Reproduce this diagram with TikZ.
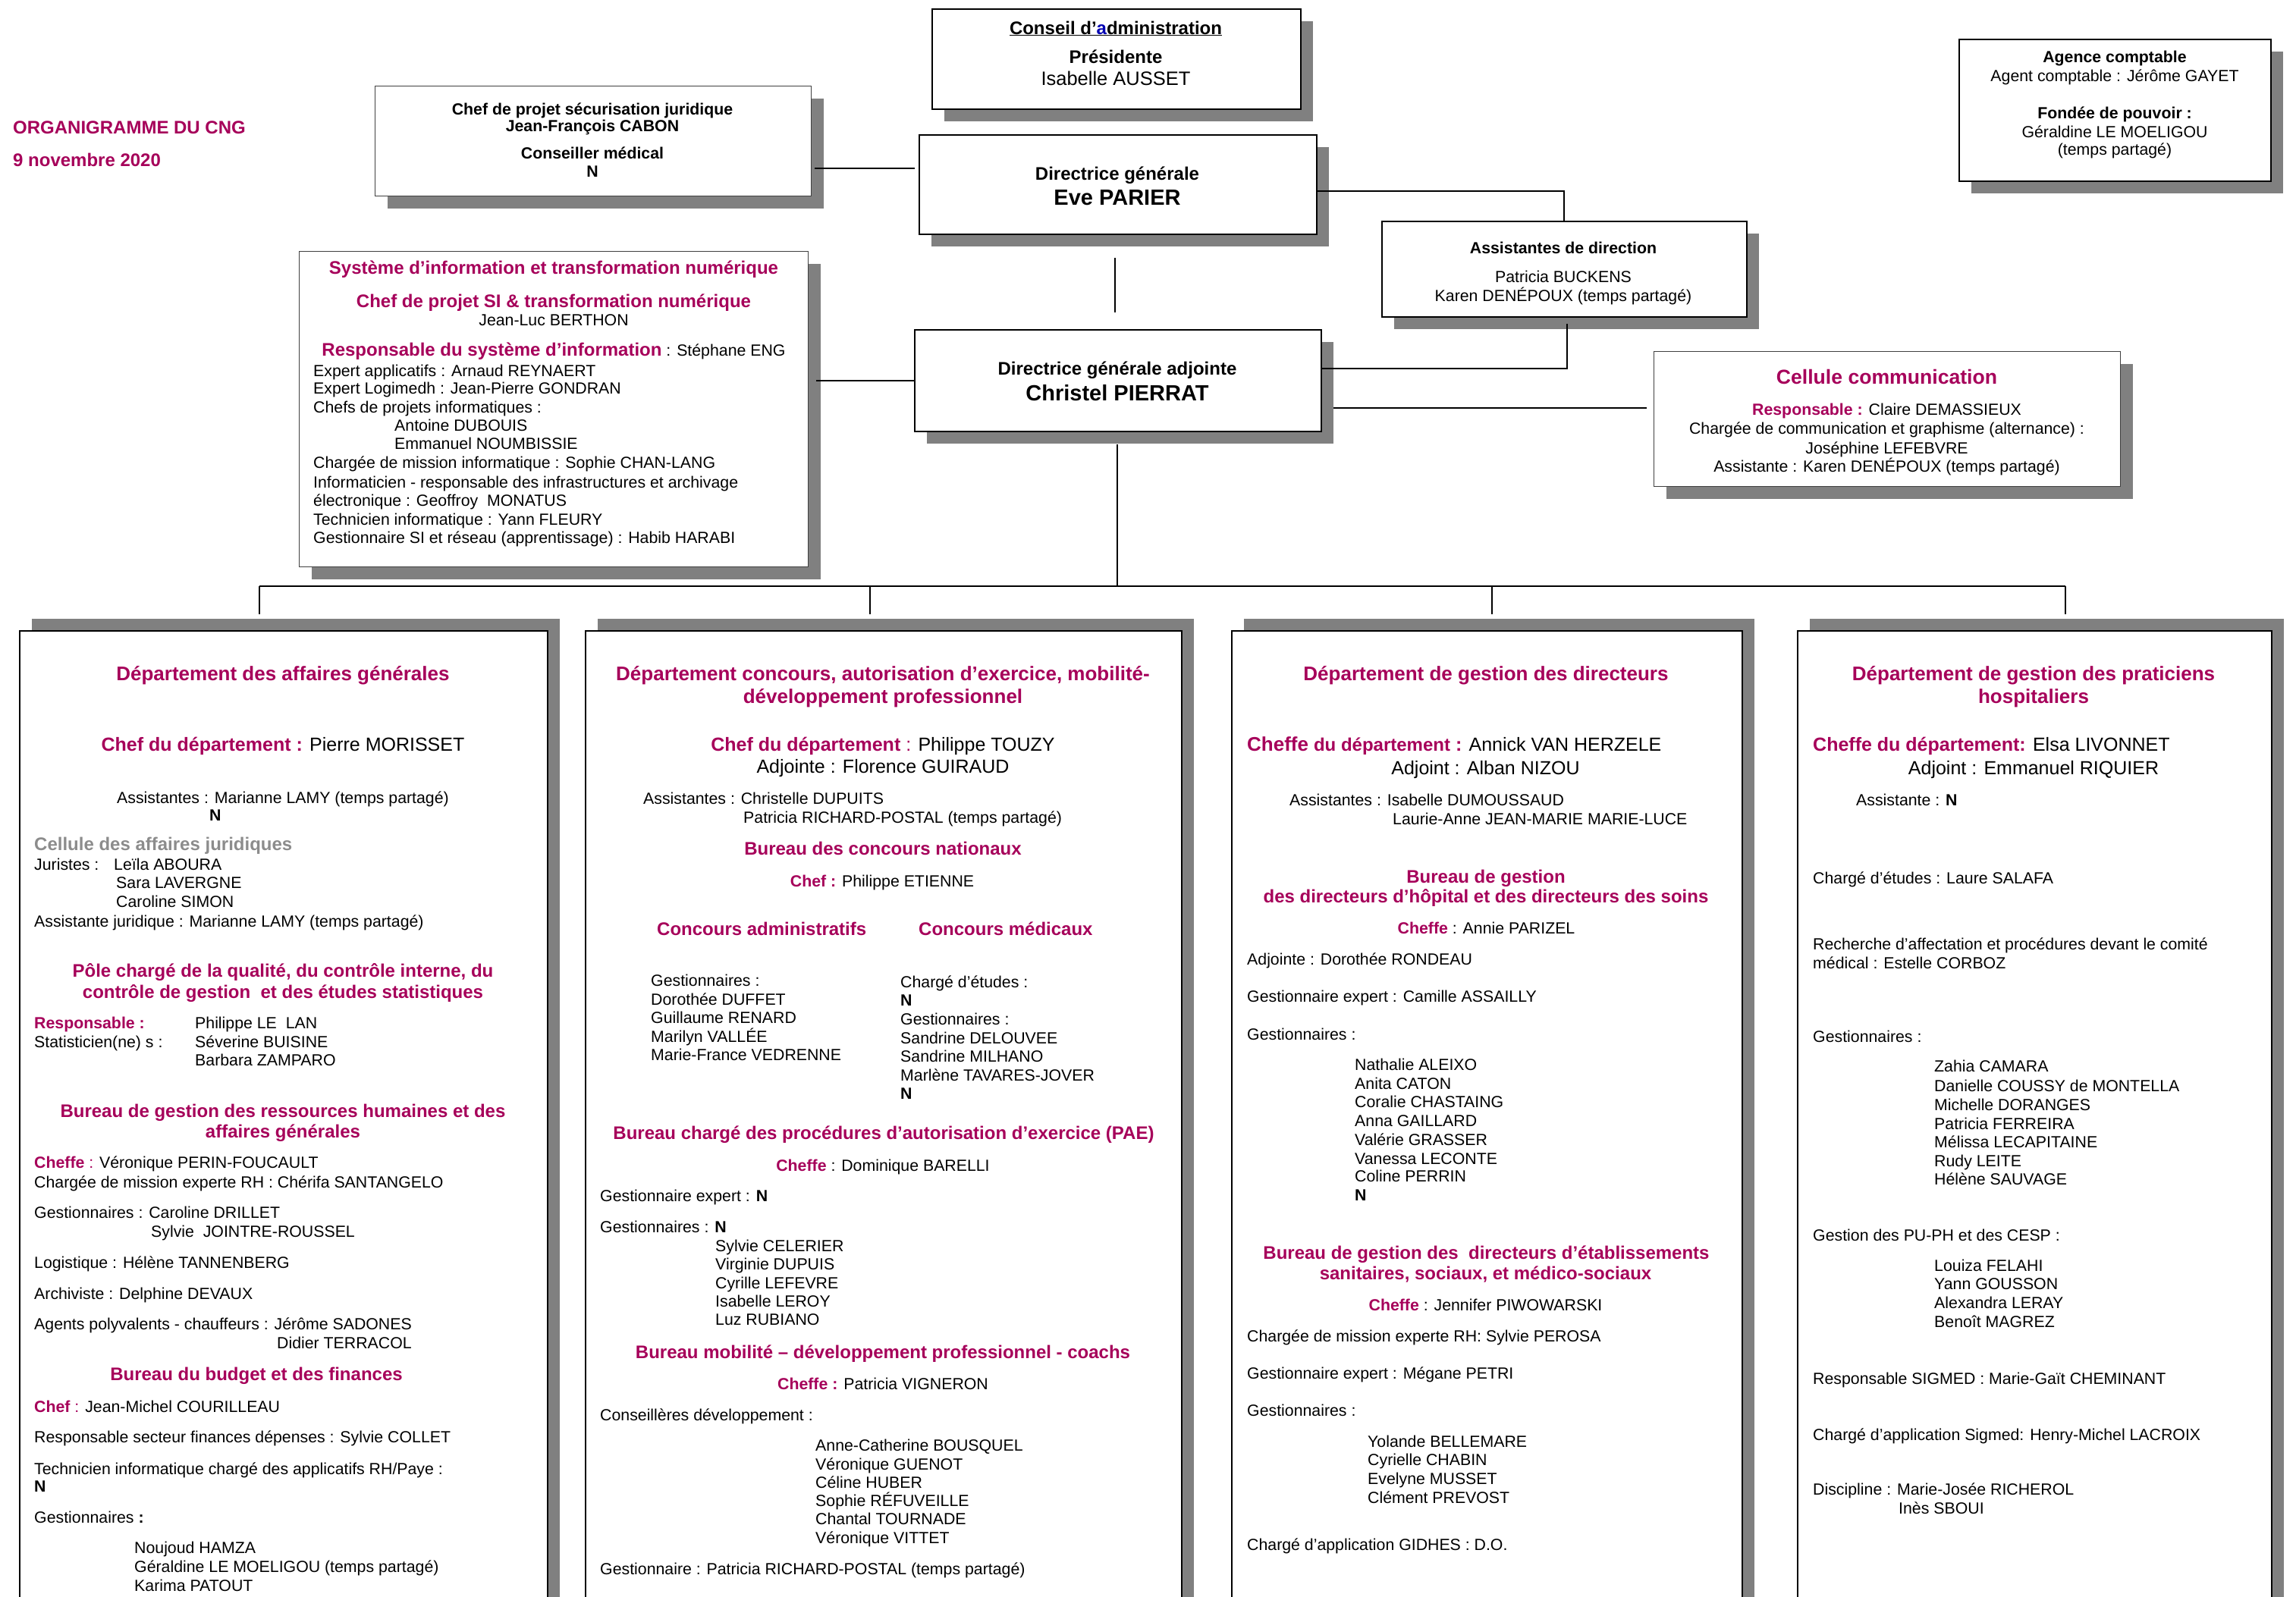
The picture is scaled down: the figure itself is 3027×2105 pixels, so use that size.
\documentclass[tikz,border=0pt]{standalone}
\usepackage{fontspec}
\setmainfont{Liberation Sans}
\usetikzlibrary{shadows,calc}
\pgfdeclarelayer{bg}
\pgfsetlayers{bg,main}
\definecolor{mag}{RGB}{166,0,90}
\definecolor{sh}{RGB}{128,128,128}
\definecolor{jg}{RGB}{140,140,140}
\newcommand\fb{\fontsize{21.3}{24.5}\selectfont}
\newcommand\fbb{\fontsize{21.3}{24.5}\selectfont\bfseries}
\newcommand\fk{\fontsize{24}{27.6}\selectfont\bfseries}
\newcommand\fh{\fontsize{24}{27.6}\selectfont\bfseries\color{mag}}
\newcommand\fd{\fontsize{26}{30}\selectfont\bfseries\color{mag}}
\newcommand\fc{\fontsize{25}{29}\selectfont}
\newcommand\fbig{\fontsize{29}{33}\selectfont\bfseries}
\newcommand\mg[1]{{\color{mag}\bfseries #1}}
\newcommand\chf{{\fontsize{26}{30}\selectfont\color{mag}\bfseries Cheffe}}
\newcommand\dpt{{\fontsize{24}{28}\selectfont\color{mag}\bfseries du département}}
\newcounter{tn}
\newcommand\LN[4][]{\stepcounter{tn}\node[tl,#1] (t\arabic{tn}) at (#2,-#3) {#4};}
\newcommand\CN[4][]{\stepcounter{tn}\node[tcn,#1] (t\arabic{tn}) at (#2,-#3) {#4};}
\begin{document}
\begin{tikzpicture}[x=1pt,y=1pt,
  tl/.style={inner sep=0pt, anchor=base west, font=\fb},
  tcn/.style={inner sep=0pt, anchor=base, font=\fb},
  bx/.style={draw, fill=white, inner sep=0pt, anchor=north west,
     general shadow={fill=sh, shadow xshift=16pt, shadow yshift=-16pt}},
  bk/.style={bx, line width=2.2pt},
  bm/.style={bx, line width=1.8pt},
  bt/.style={bx, line width=1pt, draw=black!75},
  dp/.style={draw, fill=white, inner sep=0pt, anchor=north west, line width=2.2pt,
     general shadow={fill=sh, shadow xshift=16pt, shadow yshift=16pt}},
  cn/.style={line width=2pt}]
\useasboundingbox (0,0) rectangle (3027,-2105);
\begin{pgfonlayer}{bg}
\fill[white] (0,0) rectangle (3027,-2105);
\end{pgfonlayer}

% ---------- boxes ----------
\node[bk, minimum width=486pt, minimum height=132pt] (conseil) at (1228,-11) {};
\node[bt, minimum width=575pt, minimum height=145pt] (chef) at (494,-113) {};
\node[bk, minimum width=524pt, minimum height=131pt] (dg) at (1211,-177) {};
\node[bt, minimum width=671pt, minimum height=416pt] (si) at (394,-331) {};
\node[bk, minimum width=536pt, minimum height=134pt] (dga) at (1205,-434) {};
\node[bm, minimum width=481pt, minimum height=126pt] (assist) at (1821,-291) {};
\node[bt, minimum width=615pt, minimum height=178pt] (cellule) at (2180,-463) {};
\node[bk, minimum width=411pt, minimum height=187pt] (agence) at (2582,-51) {};
\node[dp, minimum width=696pt, minimum height=1320pt] (d1) at (25,-831) {};
\node[dp, minimum width=786pt, minimum height=1320pt] (d2) at (771,-831) {};
\node[dp, minimum width=673pt, minimum height=1320pt] (d3) at (1623,-831) {};
\node[dp, minimum width=625pt, minimum height=1320pt] (d4) at (2369,-831) {};

% ---------- connectors ----------
\coordinate (ya) at (0,-222);
\draw[cn] ($(chef.east |- ya)+(4,0)$) -- ($(dg.west |- ya)+(-5,0)$);
\coordinate (yb) at (0,-251.5);
\draw[cn] (dg.east |- yb) -| (assist.north);
\coordinate (xc) at (2066,-486);
\draw[cn] ($(assist.south -| xc)+(0,-8)$) |- (dga.east |- xc);
\coordinate (yd) at (0,-538);
\draw[cn] ($(dga.east |- yd)+(15,0)$) -- ($(cellule.west |- yd)+(-9,0)$);
\coordinate (ye) at (0,-502);
\draw[cn] ($(si.east |- ye)+(10,0)$) -- (dga.west |- ye);
\coordinate (xg) at (1470,0);
\draw[cn, line width=1.2pt] ($(dg.south -| xg)+(0,-30)$) -- ($(dga.north -| xg)+(0,22)$);
\coordinate (xm) at (1473,0);
\coordinate (bar) at (0,-773);
\draw[cn] ($(dga.south -| xm)+(0,-16)$) -- (xm |- bar);
\coordinate (j1) at (342,-773);
\coordinate (j2) at (1147,-773);
\coordinate (j3) at (1967,-773);
\coordinate (j4) at (2723,-773);
\draw[cn] (j1) -- (j4);
\draw[cn] (j1) -- ($(d1.north -| j1)+(0,21)$);
\draw[cn] (j2) -- ($(d2.north -| j2)+(0,21)$);
\draw[cn] (j3) -- ($(d3.north -| j3)+(0,21)$);
\draw[cn] (j4) -- ($(d4.north -| j4)+(0,21)$);

% ---------- top texts ----------
\LN[font=\fh]{17}{176}{ORGANIGRAMME DU CNG}
\LN[font=\fh]{17}{219}{9 novembre 2020}

\CN[font=\fk]{1471}{45}{\underline{Conseil d'{\color{blue!70!black}a}dministration}}
\CN[font=\fk]{1471}{83}{Présidente}
\CN[font=\fontsize{25.5}{29}\selectfont]{1471}{112}{Isabelle AUSSET}

\CN[font=\fbb]{781}{151.5}{Chef de projet sécurisation juridique}
\CN[font=\fbb]{781}{173.5}{Jean-François CABON}
\CN[font=\fbb]{781}{209}{Conseiller médical}
\CN[font=\fbb]{781}{233}{N}

\CN[font=\fk]{1473}{237}{Directrice générale}
\CN[font=\fbig]{1473}{270}{Eve PARIER}
\CN[font=\fk]{1473}{494}{Directrice générale adjointe}
\CN[font=\fbig]{1473}{528}{Christel PIERRAT}

\CN[font=\fh]{730}{361}{Système d’information et transformation numérique}
\CN[font=\fh]{730}{405.6}{Chef de projet SI \& transformation numérique}
\CN{730}{429.6}{Jean-Luc BERTHON}
\CN{730}{469}{{\fh Responsable du système d’information} : Stéphane ENG}
\LN{413}{496}{Expert applicatifs : Arnaud REYNAERT}
\LN{413}{519.5}{Expert Logimedh : Jean-Pierre GONDRAN}
\LN{413}{544}{Chefs de projets informatiques :}
\LN{520}{568}{Antoine DUBOUIS}
\LN{520}{592}{Emmanuel NOUMBISSIE}
\LN{413}{617}{Chargée de mission informatique : Sophie CHAN-LANG}
\LN{413}{643}{Informaticien - responsable des infrastructures et archivage}
\LN{413}{667}{électronique : Geoffroy \ MONATUS}
\LN{413}{692}{Technicien informatique : Yann FLEURY}
\LN{413}{716}{Gestionnaire SI et réseau (apprentissage) : Habib HARABI}

\CN[font=\fbb]{2061}{334}{Assistantes de direction}
\CN{2061}{372.4}{Patricia BUCKENS}
\CN{2061}{397}{Karen DENÉPOUX (temps partagé)}

\CN[font=\fbb]{2788}{82.7}{Agence comptable}
\CN{2788}{107}{Agent comptable : Jérôme GAYET}
\CN[font=\fbb]{2788}{156.6}{Fondée de pouvoir :}
\CN{2788}{181}{Géraldine LE MOELIGOU}
\CN{2788}{204}{(temps partagé)}

\CN[font=\fontsize{26.6}{30}\selectfont\bfseries\color{mag}]{2487.5}{506.6}{Cellule communication}
\CN{2487.5}{547.4}{\mg{Responsable :} Claire DEMASSIEUX}
\CN{2487.5}{572.4}{Chargée de communication et graphisme (alternance) :}
\CN{2487.5}{598}{Joséphine LEFEBVRE}
\CN{2487.5}{622.4}{Assistante : Karen DENÉPOUX (temps partagé)}

% ---------- department 1 ----------
\CN[font=\fd]{373}{897.6}{Département des affaires générales}
\CN[font=\fc]{373}{990}{\mg{Chef du département :} Pierre MORISSET}
\LN{154}{1059.6}{Assistantes : Marianne LAMY (temps partagé)}
\LN[font=\fbb]{276}{1082}{N}
\LN[font=\fk\color{jg}]{45}{1121.7}{Cellule des affaires juridiques}
\LN{45}{1147.6}{Juristes :}
\LN{150}{1147.6}{Leïla ABOURA}
\LN{153}{1171.7}{Sara LAVERGNE}
\LN{153}{1196}{Caroline SIMON}
\LN{45}{1222}{Assistante juridique : Marianne LAMY (temps partagé)}
\CN[font=\fh]{373}{1288}{Pôle chargé de la qualité, du contrôle interne, du}
\CN[font=\fh]{373}{1316}{contrôle de gestion \ et des études statistiques}
\LN[font=\fbb\color{mag}]{45}{1356}{Responsable :}
\LN{257}{1356}{Philippe LE \ LAN}
\LN{45}{1381}{Statisticien(ne) s :}
\LN{257}{1381}{Séverine BUISINE}
\LN{257}{1405}{Barbara ZAMPARO}
\CN[font=\fh]{373}{1473}{Bureau de gestion des ressources humaines et des}
\CN[font=\fh]{373}{1500}{affaires générales}
\LN{45}{1540.7}{\mg{Cheffe} {\color{mag}:} Véronique PERIN-FOUCAULT}
\LN{45}{1566}{Chargée de mission experte RH : Chérifa SANTANGELO}
\LN{45}{1606.8}{Gestionnaires : Caroline DRILLET}
\LN{199}{1631.6}{Sylvie \ JOINTRE-ROUSSEL}
\LN{45}{1672}{Logistique : Hélène TANNENBERG}
\LN{45}{1713.4}{Archiviste : Delphine DEVAUX}
\LN{45}{1753.9}{Agents polyvalents - chauffeurs : Jérôme SADONES}
\LN{365}{1778.6}{Didier TERRACOL}
\CN[font=\fh]{338}{1820.4}{Bureau du budget et des finances}
\LN{45}{1862}{\mg{Chef} {\color{mag}:} Jean-Michel COURILLEAU}
\LN{45}{1902.7}{Responsable secteur finances dépenses : Sylvie COLLET}
\LN{45}{1944}{Technicien informatique chargé des applicatifs RH/Paye :}
\LN[font=\fbb]{45}{1967.5}{N}
\LN{45}{2008}{Gestionnaires \textbf{:}}
\LN{177}{2048.4}{Noujoud HAMZA}
\LN{177}{2073}{Géraldine LE MOELIGOU (temps partagé)}
\LN{177}{2098}{Karima PATOUT}

% ---------- department 2 ----------
\CN[font=\fd]{1164}{897.6}{Département concours, autorisation d’exercice, mobilité-}
\CN[font=\fd]{1164}{927.5}{développement professionnel}
\CN[font=\fc]{1164}{990}{\mg{Chef du département} {\color{mag}:} Philippe TOUZY}
\CN[font=\fc]{1164}{1019}{Adjointe : Florence GUIRAUD}
\LN{848}{1060.5}{Assistantes : Christelle DUPUITS}
\LN{980}{1085}{Patricia RICHARD-POSTAL (temps partagé)}
\CN[font=\fh]{1164}{1127.5}{Bureau des concours nationaux}
\CN{1163}{1169.5}{\mg{Chef :} Philippe ETIENNE}
\LN[font=\fh]{866}{1233}{Concours administratifs}
\LN[font=\fh]{1211}{1233}{Concours médicaux}
\LN{858}{1300}{Gestionnaires :}
\LN{858}{1325}{Dorothée DUFFET}
\LN{858}{1349}{Guillaume RENARD}
\LN{858}{1374}{Marilyn VALLÉE}
\LN{858}{1398.5}{Marie-France VEDRENNE}
\LN{1187}{1302.5}{Chargé d'études :}
\LN[font=\fbb]{1187}{1326}{N}
\LN{1187}{1351.6}{Gestionnaires :}
\LN{1187}{1376}{Sandrine DELOUVEE}
\LN{1187}{1400.7}{Sandrine MILHANO}
\LN{1187}{1425.3}{Marlène TAVARES-JOVER}
\LN[font=\fbb]{1187}{1449.5}{N}
\CN[font=\fh]{1165}{1502.5}{Bureau chargé des procédures d’autorisation d’exercice (PAE)}
\CN{1164}{1544}{\mg{Cheffe} : Dominique BARELLI}
\LN{791}{1584}{Gestionnaire expert : \textbf{N}}
\LN{791}{1625}{Gestionnaires : \textbf{N}}
\LN{943}{1650}{Sylvie CELERIER}
\LN{943}{1674}{Virginie DUPUIS}
\LN{943}{1699}{Cyrille LEFEVRE}
\LN{943}{1723.7}{Isabelle LEROY}
\LN{943}{1747.6}{Luz RUBIANO}
\CN[font=\fh]{1164}{1791}{Bureau mobilité – développement professionnel - coachs}
\CN{1164}{1832.5}{\mg{Cheffe :} Patricia VIGNERON}
\LN{791}{1873}{Conseillères développement :}
\LN{1075}{1913.5}{Anne-Catherine BOUSQUEL}
\LN{1075}{1938}{Véronique GUENOT}
\LN{1075}{1962}{Céline HUBER}
\LN{1075}{1986.8}{Sophie RÉFUVEILLE}
\LN{1075}{2010.6}{Chantal TOURNADE}
\LN{1075}{2035}{Véronique VITTET}
\LN{791}{2076.7}{Gestionnaire : Patricia RICHARD-POSTAL (temps partagé)}

% ---------- department 3 ----------
\CN[font=\fd]{1959}{897.6}{Département de gestion des directeurs}
\LN[font=\fc]{1644}{990}{\chf\ \dpt\ {\color{mag}\bfseries :} Annick VAN HERZELE}
\CN[font=\fc]{1958.5}{1021}{Adjoint : Alban NIZOU}
\LN{1700}{1062}{Assistantes : Isabelle DUMOUSSAUD}
\LN{1836}{1087}{Laurie-Anne JEAN-MARIE MARIE-LUCE}
\CN[font=\fh]{1959}{1164}{Bureau de gestion}
\CN[font=\fh]{1959}{1190}{des directeurs d’hôpital et des directeurs des soins}
\CN{1959.5}{1231}{\mg{Cheffe} : Annie PARIZEL}
\LN{1644}{1272}{Adjointe : Dorothée RONDEAU}
\LN{1644}{1321}{Gestionnaire expert : Camille ASSAILLY}
\LN{1644}{1371.7}{Gestionnaires :}
\LN{1786}{1411.9}{Nathalie ALEIXO}
\LN{1786}{1436.5}{Anita CATON}
\LN{1786}{1460.7}{Coralie CHASTAING}
\LN{1786}{1485.4}{Anna GAILLARD}
\LN{1786}{1510}{Valérie GRASSER}
\LN{1786}{1535}{Vanessa LECONTE}
\LN{1786}{1558.7}{Coline PERRIN}
\LN[font=\fbb]{1786}{1583.5}{N}
\CN[font=\fh]{1959.5}{1660}{Bureau de gestion des \ directeurs d’établissements}
\CN[font=\fh]{1958.5}{1687}{sanitaires, sociaux, et médico-sociaux}
\CN{1958.5}{1728}{\mg{Cheffe} : Jennifer PIWOWARSKI}
\LN{1644}{1769.6}{Chargée de mission experte RH: Sylvie PEROSA}
\LN{1644}{1818}{Gestionnaire expert : Mégane PETRI}
\LN{1644}{1867.6}{Gestionnaires :}
\LN{1803}{1908}{Yolande BELLEMARE}
\LN{1803}{1932.8}{Cyrielle CHABIN}
\LN{1803}{1957.5}{Evelyne MUSSET}
\LN{1803}{1982}{Clément PREVOST}
\LN{1644}{2044}{Chargé d'application GIDHES : D.O.}

% ---------- department 4 ----------
\CN[font=\fd]{2681}{897.6}{Département de gestion des praticiens}
\CN[font=\fd]{2681}{927.5}{hospitaliers}
\LN[font=\fc]{2390}{990}{\mg{Cheffe du département:} Elsa LIVONNET}
\CN[font=\fc]{2681}{1021}{Adjoint : Emmanuel RIQUIER}
\LN{2447}{1062}{Assistante : \textbf{N}}
\LN{2390}{1165}{Chargé d’études : Laure SALAFA}
\LN{2390}{1252.5}{Recherche d'affectation et procédures devant le comité}
\LN{2390}{1277}{médical : Estelle CORBOZ}
\LN{2390}{1374}{Gestionnaires :}
\LN{2550}{1413.5}{Zahia CAMARA}
\LN{2550}{1439.6}{Danielle COUSSY de MONTELLA}
\LN{2550}{1464}{Michelle DORANGES}
\LN{2550}{1489}{Patricia FERREIRA}
\LN{2550}{1513}{Mélissa LECAPITAINE}
\LN{2550}{1538}{Rudy LEITE}
\LN{2550}{1562}{Hélène SAUVAGE}
\LN{2390}{1636}{Gestion des PU-PH et des CESP :}
\LN{2550}{1676.5}{Louiza FELAHI}
\LN{2550}{1700}{Yann GOUSSON}
\LN{2550}{1725}{Alexandra LERAY}
\LN{2550}{1750}{Benoît MAGREZ}
\LN{2390}{1825}{Responsable SIGMED : Marie-Gaït CHEMINANT}
\LN{2390}{1899}{Chargé d'application Sigmed: Henry-Michel LACROIX}
\LN{2390}{1971}{Discipline : Marie-Josée RICHEROL}
\LN{2503}{1996}{Inès SBOUI}
\end{tikzpicture}
\end{document}
